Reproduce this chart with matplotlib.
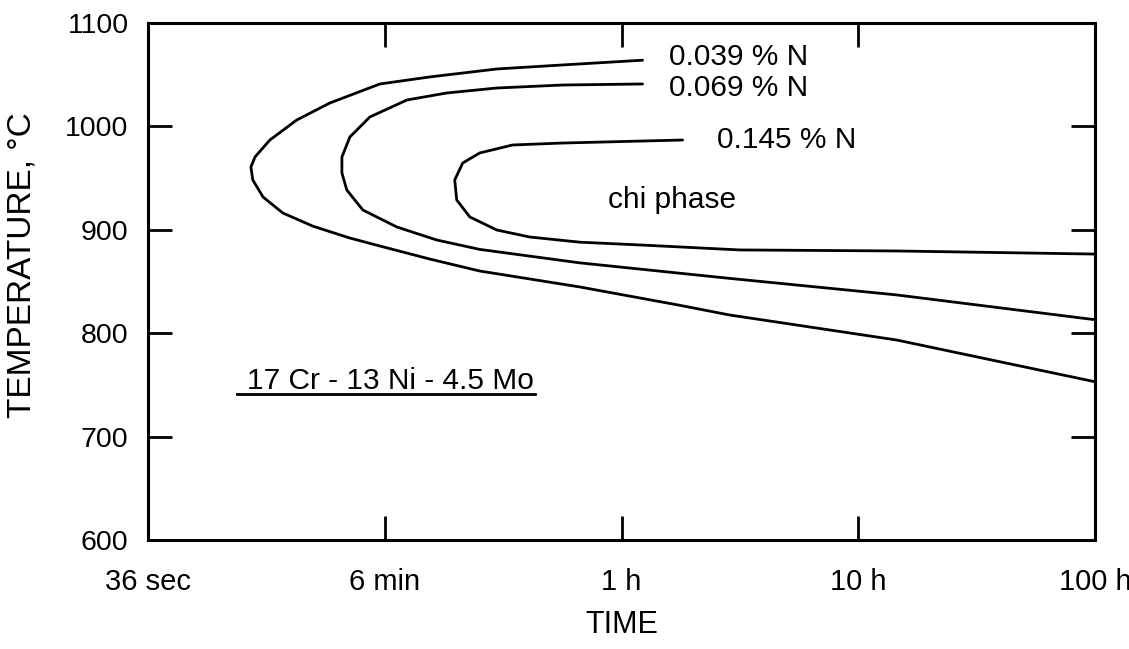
import matplotlib
matplotlib.use("Agg")
import matplotlib.pyplot as plt
import numpy as np

plt.rcParams["font.family"] = ["Liberation Sans", "DejaVu Sans"]

# time in hours, temperature in degC
t_039 = [1.226, 0.564, 0.297, 0.1548, 0.0953, 0.0586, 0.0425, 0.0327, 0.0283, 0.0272,
         0.0277, 0.0306, 0.0371, 0.0497, 0.0712, 0.0953, 0.1548, 0.252, 0.666, 1.757,
         2.856, 14.5, 100]
T_039 = [1064, 1059.4, 1055.5, 1047.8, 1041, 1022.6, 1006.2, 986.8, 970.4, 960.7,
         948.2, 931.7, 916.2, 903.5, 892, 884.3, 871.7, 860.1, 844.7, 827,
         817.6, 793.4, 753]

t_069 = [1.226, 0.564, 0.297, 0.1826, 0.1240, 0.0865, 0.0712, 0.0659, 0.0659, 0.0691,
         0.0808, 0.1124, 0.1657, 0.252, 0.666, 1.757, 2.856, 14.5, 100]
T_069 = [1041, 1040, 1037.1, 1032.3, 1025.5, 1009.1, 989.7, 970.4, 955, 938.5,
         919.1, 902.7, 890.1, 881, 868, 858, 853, 837, 813]

t_145 = [1.81, 0.564, 0.3467, 0.2517, 0.2134, 0.1974, 0.2013, 0.2286, 0.297, 0.409,
         0.666, 1.275, 3.147, 14.5, 100]
T_145 = [986.8, 983.9, 982, 974.3, 964.6, 948.2, 928.8, 912.4, 899.8, 893,
         888, 885, 880.5, 879.5, 876.5]

x_ticks = [0.01, 0.1, 1, 10, 100]
x_labels = ["36 sec", "6 min", "1 h", "10 h", "100 h"]
y_ticks = [600, 700, 800, 900, 1000, 1100]

fig = plt.figure(figsize=(11.29, 6.49), dpi=100)
ax = fig.add_axes([0.1311, 0.168, 0.8389, 0.7966])

for t, T in [(t_039, T_039), (t_069, T_069), (t_145, T_145)]:
    ax.plot(t, T, color="black", lw=2.0, solid_joinstyle="round", solid_capstyle="round")

ax.set_xscale("log")
ax.set_xlim(0.01, 100)
ax.set_ylim(600, 1100)
ax.set_xticks(x_ticks)
ax.set_xticklabels(x_labels)
ax.minorticks_off()
ax.set_yticks(y_ticks)

ax.tick_params(axis="both", which="major", direction="in", length=17, width=2,
               top=True, right=True, color="black")
ax.tick_params(axis="x", pad=20, labelsize=21)
ax.tick_params(axis="y", pad=14, labelsize=20.5)
for s in ax.spines.values():
    s.set_linewidth(2.2)

ax.set_xlabel("TIME", fontsize=22)
ax.xaxis.set_label_coords(0.5, -0.135)
ax.set_ylabel("TEMPERATURE, \u00b0C", fontsize=24)
ax.yaxis.set_label_coords(-0.117, 0.532)

ax.text(1.59, 1067, "0.039 % N", fontsize=21.5, va="center", ha="left")
ax.text(1.59, 1037, "0.069 % N", fontsize=21.5, va="center", ha="left")
ax.text(2.54, 987, "0.145 % N", fontsize=21.5, va="center", ha="left")
ax.text(0.873, 929, "chi phase", fontsize=21.5, va="center", ha="left")
ax.text(0.0262, 754, "17 Cr - 13 Ni - 4.5 Mo", fontsize=21.5, va="center", ha="left")
ax.plot([0.0237, 0.433], [741, 741], color="black", lw=2.0)

fig.savefig("out.png", dpi=100)
